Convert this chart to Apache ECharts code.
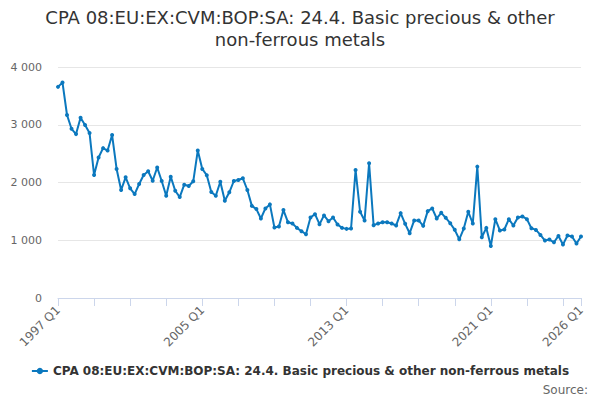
<!DOCTYPE html>
<html>
<head>
<meta charset="utf-8">
<script src="https://cdn.jsdelivr.net/npm/echarts@6/dist/echarts.min.js"></script>
<style>html,body{margin:0;padding:0;background:#fff}#c{width:600px;height:400px}</style>
</head>
<body>
<div id="c"></div>
<script>
const seriesName = 'CPA 08:EU:EX:CVM:BOP:SA: 24.4. Basic precious & other non-ferrous metals';
const titleText = 'CPA 08:EU:EX:CVM:BOP:SA: 24.4. Basic precious & other\nnon-ferrous metals';
const startYear = 1997;
const endYear = 2026;
const yTicks = [0, 1000, 2000, 3000, 4000];
const values = [
  3656, 3730, 3169, 2930, 2838, 3122, 2995, 2856, 2130, 2432,
  2595, 2553, 2821, 2235, 1870, 2090, 1899, 1800, 1974, 2130,
  2195, 2031, 2260, 2026, 1770, 2101, 1857, 1748, 1962, 1939,
  2021, 2553, 2235, 2125, 1835, 1770, 2014, 1683, 1830, 2026,
  2043, 2073, 1870, 1595, 1540, 1377, 1551, 1621, 1221, 1238,
  1522, 1313, 1290, 1214, 1157, 1104, 1395, 1452, 1278, 1430,
  1330, 1395, 1273, 1214, 1197, 1203, 2217, 1492, 1343, 2334,
  1261, 1290, 1313, 1313, 1290, 1256, 1470, 1284, 1122, 1343,
  1343, 1249, 1504, 1551, 1377, 1475, 1388, 1295, 1180, 1017,
  1203, 1492, 1290, 2275, 1052, 1214, 901, 1365, 1169, 1186,
  1365, 1256, 1395, 1412, 1365, 1209, 1179, 1092, 995, 1012,
  965, 1075, 925, 1082, 1064, 943, 1064
];
const categories = [];
for (let y = startYear; y <= endYear; y++) {
  for (let q = 1; q <= 4; q++) {
    if (y === endYear && q > 1) break;
    categories.push(y + ' Q' + q);
  }
}
const last = categories.length - 1;
const font = 'DejaVu Sans, Verdana, sans-serif';
const chart = echarts.init(document.getElementById('c'), null, {renderer: 'svg'});
chart.setOption({
  animation: false,
  textStyle: {fontFamily: font},
  title: {
    text: titleText,
    left: 'center',
    top: 1,
    textStyle: {fontFamily: font, fontSize: 18, fontWeight: 'normal', color: '#333', lineHeight: 22}
  },
  grid: {left: 58, right: 19, top: 67, bottom: 102},
  xAxis: {
    type: 'category',
    data: categories,
    boundaryGap: false,
    axisLine: {lineStyle: {color: '#ccd6eb'}},
    axisTick: {
      show: true,
      length: 8,
      lineStyle: {color: '#ccd6eb'},
      interval: (i) => i % 8 === 0 || i === last
    },
    axisLabel: {
      interval: (i) => i % 32 === 0 || i === last,
      rotate: 45,
      color: '#666',
      fontSize: 12,
      fontFamily: font,
      margin: 10,
      showMaxLabel: true
    },
    splitLine: {show: false}
  },
  yAxis: {
    type: 'value',
    min: yTicks[0],
    max: yTicks[yTicks.length - 1],
    interval: 1000,
    axisLine: {show: false},
    axisTick: {show: false},
    splitLine: {lineStyle: {color: '#e6e6e6'}},
    axisLabel: {
      color: '#666',
      fontSize: 11,
      fontFamily: font,
      margin: 16,
      formatter: (v) => String(v).replace(/\B(?=(\d{3})+(?!\d))/g, ' ')
    }
  },
  legend: {
    bottom: 18,
    left: 'center',
    itemWidth: 16,
    itemHeight: 8,
    textStyle: {fontFamily: font, fontSize: 12, fontWeight: 'bold', color: '#333'},
    data: [seriesName]
  },
  graphic: [{
    type: 'text',
    right: 12,
    bottom: 4,
    style: {text: 'Source:', fill: '#666', font: '12px ' + font}
  }],
  series: [{
    name: seriesName,
    type: 'line',
    data: values,
    symbol: 'circle',
    symbolSize: 4,
    showAllSymbol: true,
    itemStyle: {color: '#0b78be'},
    lineStyle: {width: 2, color: '#0b78be'}
  }]
});
</script>
</body>
</html>
